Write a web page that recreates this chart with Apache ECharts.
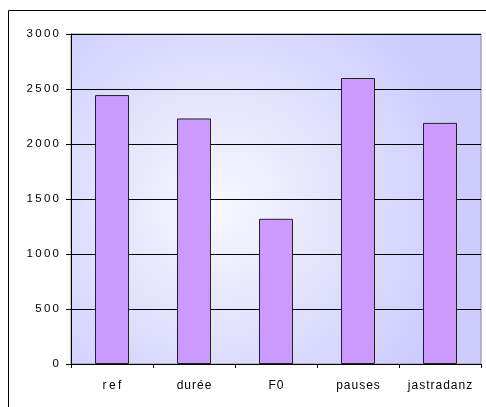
<!DOCTYPE html>
<html><head><meta charset="utf-8">
<script src="https://cdn.jsdelivr.net/npm/echarts@6/dist/echarts.min.js"></script>
<style>html,body{margin:0;padding:0;background:#fff;}#c{width:486px;height:407px;}</style>
</head><body><div id="c"></div>
<script>
var categories = ['ref', 'durée', 'F0', 'pauses', 'jastradanz'];
var values = [2445, 2232, 1320, 2600, 2192];
var yTicks = [0, 500, 1000, 1500, 2000, 2500, 3000];

function spaced(s, sp) { return String(s).split('').join(sp); }

var chart = echarts.init(document.getElementById('c'), null, {renderer: 'canvas'});
chart.setOption({
  animation: false,
  graphic: [{
    type: 'rect', z: -10, silent: true,
    shape: {x: 8.5, y: 10.5, width: 520, height: 420},
    style: {fill: 'none', stroke: '#000', lineWidth: 1}
  }],
  grid: {
    left: 71, top: 34, right: 5, bottom: 43, show: true,
    borderColor: '#888', borderWidth: 1,
    backgroundColor: new echarts.graphic.RadialGradient(0.36, 0.52, 0.75, [
      {offset: 0, color: '#f8f8ff'},
      {offset: 0.45, color: '#e4e4fd'},
      {offset: 1, color: '#ccccff'}
    ])
  },
  xAxis: {
    type: 'category', data: categories,
    axisLine: {lineStyle: {color: '#000', width: 1}},
    axisTick: {show: true, length: 4, lineStyle: {color: '#000'}},
    axisLabel: {
      color: '#000', fontFamily: 'Liberation Sans', fontSize: 12, margin: 16,
      interval: 0, hideOverlap: false,
      formatter: function (v) { return spaced(v, v === 'ref' ? '\u2009' : '\u200A'); }
    }
  },
  yAxis: {
    type: 'value', min: 0, max: 3000, interval: 500,
    axisLine: {show: true, lineStyle: {color: '#000', width: 1}},
    axisTick: {show: true, length: 5, lineStyle: {color: '#000'}},
    axisLabel: {
      color: '#000', fontFamily: 'Liberation Sans', fontSize: 11.5, margin: 12,
      formatter: function (v) { return yTicks.indexOf(v) >= 0 ? spaced(v, '\u2009') : ''; }
    },
    splitLine: {show: true, lineStyle: {color: '#000', width: 1}}
  },
  series: [{
    type: 'bar', data: values, barWidth: 34,
    itemStyle: {color: '#cc99ff', borderColor: '#222', borderWidth: 1}
  }]
});
</script></body></html>
